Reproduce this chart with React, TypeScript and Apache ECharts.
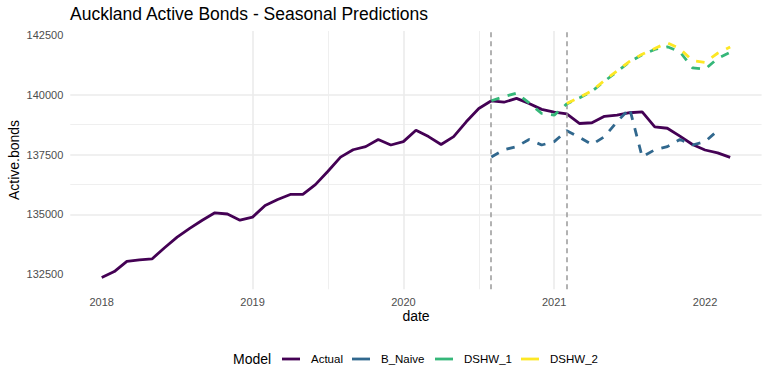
import React, { useEffect, useRef } from "react";
import * as echarts from "echarts";

const FONT = '"Liberation Sans", Arial, Helvetica, sans-serif';

const titleText = "Auckland Active Bonds - Seasonal Predictions";
const xTitle = "date";
const yTitle = "Active.bonds";
const legendTitle = "Model";

const seriesNames = ["Actual", "B_Naive", "DSHW_1", "DSHW_2"];
const seriesColors = ["#440154", "#31688E", "#35B779", "#FDE725"];

const actualStart = "2018-01";
const actualValues = [
  132350, 132600, 133030, 133090, 133130, 133600, 134040, 134410, 134750, 135060, 135010, 134750,
  134880, 135370, 135620, 135830, 135830, 136240, 136800, 137390, 137700, 137830, 138130, 137900,
  138040, 138520, 138250, 137920, 138250, 138870, 139430, 139750, 139690, 139850, 139640, 139390,
  139280, 139200, 138800, 138830, 139100, 139150, 139250, 139290, 138660, 138600, 138270, 137920,
  137690, 137570, 137380,
];

const naiveStart = "2020-08";
const naiveValues = [
  137400, 137700, 137830, 138130, 137900, 138040, 138500, 138220, 137920, 138250, 138870, 139430,
  137400, 137700, 137830, 138130, 137900, 138040, 138500,
];

const dshw1Start = "2020-08";
const dshw1Values = [
  139750, 139920, 140070, 139660, 139220, 139150, 139620, 139870, 140150, 140570, 140970, 141380,
  141680, 141900, 142010, 141800, 141130, 141070, 141520, 141780,
];

const dshw2Start = "2021-02";
const dshw2Values = [
  139640, 139890, 140170, 140600, 141000, 141400, 141700, 141940, 142180, 141930, 141430, 141360,
  141740, 142000,
];

const cutoffMonths = ["2020-08", "2021-02"];

const xTicks = [2018, 2019, 2020, 2021, 2022];
const xMinorTicks = [2018.5, 2019.5, 2020.5, 2021.5];
const yTicks = [132500, 135000, 137500, 140000, 142500];
const yMinorTicks = [133750, 136250, 138750, 141250];

// legend layout (pixel x of each key's left end)
const legendKeyX = [282, 352, 435, 521];
const LEGEND_Y = 359;

function monthToX(s: string): number {
  const [y, m] = s.split("-").map(Number);
  return y + (m - 1) / 12;
}

function toPairs(start: string, values: number[]): number[][] {
  const x0 = monthToX(start);
  return values.map((v, i) => [x0 + i / 12, v]);
}

export default function App() {
  const ref = useRef<HTMLDivElement>(null);

  useEffect(() => {
    if (!ref.current) return;
    const chart = echarts.init(ref.current, undefined, { renderer: "svg" });

    const all = [
      toPairs(actualStart, actualValues),
      toPairs(naiveStart, naiveValues),
      toPairs(dshw1Start, dshw1Values),
      toPairs(dshw2Start, dshw2Values),
    ];
    const xs = all.flat().map((p) => p[0]);
    const ys = all.flat().map((p) => p[1]);
    const xLo = Math.min(...xs), xHi = Math.max(...xs);
    const yLo = Math.min(...ys), yHi = Math.max(...ys);
    const xPad = (xHi - xLo) * 0.05;
    const yPad = (yHi - yLo) * 0.05;
    const xMin = xLo - xPad, xMax = xHi + xPad;
    const yMin = yLo - yPad, yMax = yHi + yPad;

    const major = { color: "#ebebeb", width: 1.6 };
    const minor = { color: "#ededed", width: 0.9 };
    const LINE_W = 2.8;
    const DASH = [8.5, 8.5];

    const lineSeries = seriesNames.map((name, i) => ({
      name,
      type: "line",
      data: all[i],
      xAxisIndex: 0,
      yAxisIndex: 0,
      showSymbol: false,
      symbol: "none",
      z: 3 + i,
      lineStyle: {
        color: seriesColors[i],
        width: LINE_W,
        type: i === 0 ? "solid" : DASH,
        cap: "butt",
      },
      itemStyle: { color: seriesColors[i], borderWidth: 0 },
      emphasis: { disabled: true },
    }));

    const legendGraphics: any[] = [];
    seriesNames.forEach((name, i) => {
      const x0 = legendKeyX[i];
      legendGraphics.push({
        type: "line",
        shape: { x1: x0, y1: LEGEND_Y, x2: x0 + 18, y2: LEGEND_Y },
        style: { stroke: seriesColors[i], lineWidth: LINE_W },
      });
      legendGraphics.push({
        type: "text",
        x: x0 + 29,
        y: LEGEND_Y,
        style: {
          text: name,
          fill: "#000",
          fontSize: 11.5,
          fontFamily: FONT,
          align: "left",
          verticalAlign: "middle",
        },
      });
    });

    chart.setOption({
      animation: false,
      grid: {
        left: 70.3,
        right: 6.4,
        top: 31,
        bottom: 94.7,
        containLabel: false,
      },
      xAxis: [
        {
          type: "value",
          min: xMin,
          max: xMax,
          position: "bottom",
          axisLine: { show: false },
          axisTick: { show: false, customValues: xTicks },
          axisLabel: {
            customValues: xTicks,
            formatter: (v: number) => String(Math.round(v)),
            color: "#4d4d4d",
            fontSize: 11,
            fontFamily: FONT,
            margin: 7,
          },
          splitLine: { show: true, showMinLine: false, showMaxLine: false, lineStyle: major },
        },
        {
          type: "value",
          min: xMin,
          max: xMax,
          position: "bottom",
          axisLine: { show: false },
          axisTick: { show: false, customValues: xMinorTicks },
          axisLabel: { show: false, customValues: xMinorTicks },
          splitLine: { show: true, showMinLine: false, showMaxLine: false, lineStyle: minor },
        },
      ],
      yAxis: [
        {
          type: "value",
          min: yMin,
          max: yMax,
          position: "left",
          axisLine: { show: false },
          axisTick: { show: false, customValues: yTicks },
          axisLabel: {
            customValues: yTicks,
            formatter: (v: number) => String(v),
            color: "#4d4d4d",
            fontSize: 11,
            fontFamily: FONT,
            margin: 7,
          },
          splitLine: { show: true, showMinLine: false, showMaxLine: false, lineStyle: major },
        },
        {
          type: "value",
          min: yMin,
          max: yMax,
          position: "left",
          axisLine: { show: false },
          axisTick: { show: false, customValues: yMinorTicks },
          axisLabel: { show: false, customValues: yMinorTicks },
          splitLine: { show: true, showMinLine: false, showMaxLine: false, lineStyle: minor },
        },
      ],
      graphic: [
        {
          type: "text",
          x: 70,
          y: 13.5,
          style: {
            text: titleText,
            fill: "#000",
            fontSize: 17.5,
            fontFamily: FONT,
            align: "left",
            verticalAlign: "middle",
          },
        },
        {
          type: "text",
          x: 416,
          y: 316,
          style: {
            text: xTitle,
            fill: "#000",
            fontSize: 14,
            fontFamily: FONT,
            align: "center",
            verticalAlign: "middle",
          },
        },
        {
          type: "text",
          x: 14,
          y: 160,
          rotation: Math.PI / 2,
          style: {
            text: yTitle,
            fill: "#000",
            fontSize: 14,
            fontFamily: FONT,
            align: "center",
            verticalAlign: "middle",
          },
        },
        {
          type: "text",
          x: 233,
          y: LEGEND_Y,
          style: {
            text: legendTitle,
            fill: "#000",
            fontSize: 14,
            fontFamily: FONT,
            align: "left",
            verticalAlign: "middle",
          },
        },
        ...legendGraphics,
      ],
      series: [
        {
          type: "line",
          data: [],
          xAxisIndex: 0,
          yAxisIndex: 0,
          z: 2,
          silent: true,
          markLine: {
            silent: true,
            symbol: ["none", "none"],
            label: { show: false },
            lineStyle: { color: "#999999", width: 1.5, type: [5, 4] },
            emphasis: { disabled: true },
            data: cutoffMonths.map((m) => ({ xAxis: monthToX(m) })),
          },
        },
        ...lineSeries,
      ],
    });

    return () => chart.dispose();
  }, []);

  return (
    <div
      ref={ref}
      style={{ position: "absolute", left: 0, top: 0, width: 768, height: 384 }}
    />
  );
}
